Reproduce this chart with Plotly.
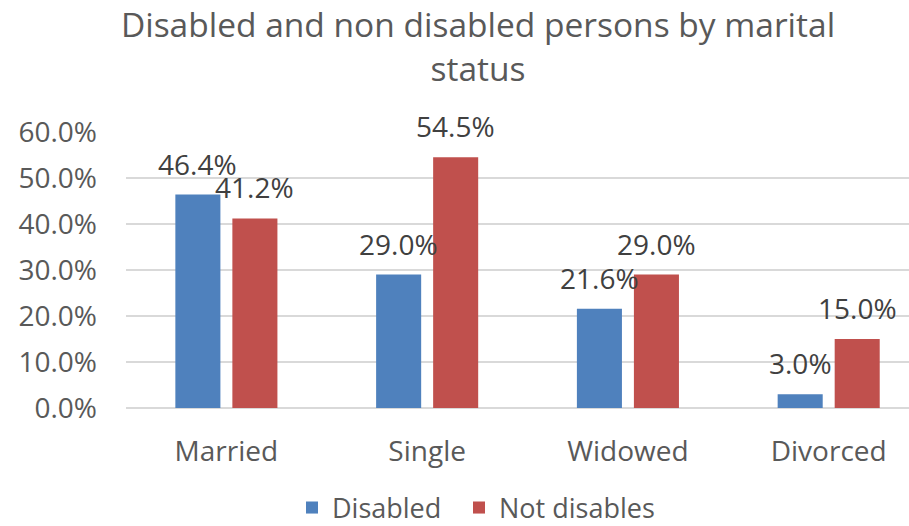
import plotly.graph_objects as go

categories = ["Married", "Single", "Widowed", "Divorced"]
disabled = [46.4, 29.0, 21.6, 3.0]
not_disables = [41.2, 54.5, 29.0, 15.0]
y_tick_vals = [0, 10, 20, 30, 40, 50, 60]
y_tick_text = ["0.0%", "10.0%", "20.0%", "30.0%", "40.0%", "50.0%", "60.0%"]

FONT = "Open Sans"
TXT = "#595959"
BLUE = "#4f81bd"
RED = "#c0504d"

fig = go.Figure()
fig.add_trace(go.Bar(name="Disabled", x=categories, y=disabled, legend="legend",
                     showlegend=True, marker=dict(color=BLUE, line=dict(width=0))))
fig.add_trace(go.Bar(name="Not disables", x=categories, y=not_disables, legend="legend2",
                     showlegend=True, marker=dict(color=RED, line=dict(width=0))))

annotations = []
for series, shift in ((disabled, -28.5), (not_disables, 28.5)):
    for c, v in zip(categories, series):
        annotations.append(dict(x=c, y=v, xref="x", yref="y", text=f"{v:.1f}%",
                                showarrow=False, xshift=shift, yshift=31,
                                xanchor="center", yanchor="middle",
                                font=dict(family=FONT, size=28, color="#404040")))

legend_style = dict(orientation="h", xanchor="left", xref="container",
                    yref="container", y=18/526, yanchor="middle",
                    font=dict(family=FONT, size=27, color=TXT),
                    itemwidth=30, bgcolor="rgba(0,0,0,0)")

fig.update_layout(
    width=909, height=526,
    margin=dict(l=126, r=0, t=132, b=118),
    paper_bgcolor="white", plot_bgcolor="white",
    font=dict(family=FONT, color=TXT),
    showlegend=True,
    barmode="group", bargap=0.432, bargroupgap=0.21,
    title=dict(text="Disabled and non disabled persons by marital<br>status",
               font=dict(family=FONT, size=33.5, color=TXT),
               x=478/909, xref="container", xanchor="center",
               y=1-37/526, yref="container", yanchor="top"),
    legend=dict(x=292/909, **legend_style),
    legend2=dict(x=459/909, **legend_style),
    annotations=annotations,
    xaxis=dict(range=[-0.5, 3.4], showgrid=False, showline=False, ticks="",
               tickfont=dict(family=FONT, size=28, color=TXT), ticklabelstandoff=24),
    yaxis=dict(range=[0, 60], tickvals=y_tick_vals, ticktext=y_tick_text,
               showgrid=True, gridcolor="#d9d9d9", gridwidth=1.5,
               zeroline=True, zerolinecolor="#d9d9d9", zerolinewidth=1.5,
               showline=False, ticks="", ticklabelstandoff=28,
               tickfont=dict(family=FONT, size=28, color=TXT)),
)

fig.write_html("out.html", config={"displayModeBar": False},
               post_script="document.body.style.margin='0';")
